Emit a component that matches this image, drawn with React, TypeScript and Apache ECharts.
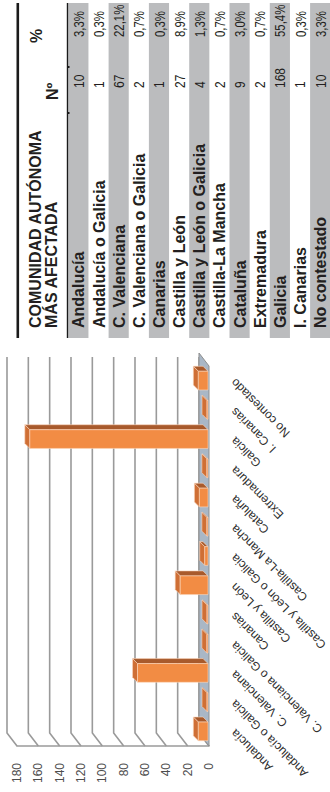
import React, { useEffect, useRef } from 'react';
import * as echarts from 'echarts';

// ---- Data ----
const regions = [
  'Andalucía',
  'Andalucía o Galicia',
  'C. Valenciana',
  'C. Valenciana o Galicia',
  'Canarias',
  'Castilla y León',
  'Castilla y León o Galicia',
  'Castilla-La Mancha',
  'Cataluña',
  'Extremadura',
  'Galicia',
  'I. Canarias',
  'No contestado',
];
const counts = [10, 1, 67, 2, 1, 27, 4, 2, 9, 2, 168, 1, 10];
const percentLabels = ['3,3%', '0,3%', '22,1%', '0,7%', '0,3%', '8,9%', '1,3%', '0,7%', '3,0%', '0,7%', '55,4%', '0,3%', '3,3%'];
const valueTicks = [0, 20, 40, 60, 80, 100, 120, 140, 160, 180];
const headerTitle = ['COMUNIDAD AUTÓNOMA', 'MÁS AFECTADA'];
const headerCount = 'Nº';
const headerPct = '%';

// ---- Styles ----
const FONT = '"Liberation Sans", Arial, Helvetica, sans-serif';
const FRONT = '#F28C44';
const TOP = '#A85A2C';
const CAP = '#CF6F35';
const EDGE = '#FBD9C0';
const GRID = '#9a9a9a';
const DX = -10;
const DY = -13;
const TEXT = '#231F20';
const BAND = '#BBBCBE';

function vText(text: string, x: number, y: number, font: string, squeeze = 1, fill = TEXT) {
  return {
    type: 'text',
    x,
    y,
    rotation: Math.PI / 2,
    scaleX: squeeze,
    silent: true,
    style: {
      text,
      font,
      fill,
      align: 'left',
      textAlign: 'left',
      verticalAlign: 'middle',
      textVerticalAlign: 'middle',
    },
  };
}

function buildTable() {
  const ROW0 = 68.3;
  const ROWH = 20.15;
  const els: any[] = [];
  regions.forEach((r, i) => {
    const x0 = ROW0 + ROWH * i;
    if (i % 2 === 0) {
      els.push({
        type: 'rect',
        silent: true,
        shape: { x: x0, y: 3, width: ROWH, height: 335 },
        style: { fill: BAND },
      });
    }
  });
  regions.forEach((r, i) => {
    const cx = ROW0 + ROWH * i + ROWH / 2 + 0.5;
    els.push(vText(r, cx, 328, `bold 16px ${FONT}`));
    els.push(vText(String(counts[i]), cx, 88, `15px ${FONT}`, 0.8));
    els.push(vText(percentLabels[i], cx, 37, `15px ${FONT}`, 0.76));
  });
  // header
  els.push(vText(headerTitle[0], 35, 328, `bold 16px ${FONT}`));
  els.push(vText(headerTitle[1], 51.5, 328, `bold 16px ${FONT}`));
  els.push(vText(headerCount, 52, 100, `bold 16px ${FONT}`));
  els.push(vText(headerPct, 36.5, 43, `bold 16px ${FONT}`));
  // rules
  els.push({ type: 'rect', silent: true, shape: { x: 16.5, y: 3, width: 2.6, height: 335 }, style: { fill: '#1a1a1a' } });
  els.push({ type: 'rect', silent: true, shape: { x: 66.8, y: 3, width: 1.4, height: 335 }, style: { fill: '#1a1a1a' } });
  els.push({ type: 'rect', silent: true, shape: { x: 67.5, y: 66, width: 2, height: 2 }, style: { fill: '#1a1a1a' } });
  els.push({ type: 'rect', silent: true, shape: { x: 67.5, y: 112, width: 2, height: 2 }, style: { fill: '#1a1a1a' } });
  return els;
}

const gridSeries = {
  type: 'custom',
  coordinateSystem: 'cartesian2d',
  silent: true,
  clip: false,
  z: 1,
  data: valueTicks.map((v) => [v, 0]),
  renderItem: (params: any, api: any) => {
    const cs = params.coordSys;
    const x = api.coord([api.value(0), 0])[0];
    const yb = cs.y + cs.height;
    const yt = cs.y - 9;
    return {
      type: 'polyline',
      shape: { points: [[x, yb], [x + DX, yb + DY], [x + DX, yt]] },
      style: { stroke: GRID, lineWidth: 1.6, fill: null },
    };
  },
};

const floorSeries = {
  type: 'custom',
  coordinateSystem: 'cartesian2d',
  silent: true,
  clip: false,
  z: 2,
  data: [[0, 0]],
  renderItem: (params: any, api: any) => {
    const cs = params.coordSys;
    const x = api.coord([0, 0])[0];
    const yb = cs.y + cs.height;
    const yt = cs.y;
    return {
      type: 'polygon',
      shape: { points: [[x, yb], [x, yt], [x + DX, yt + DY], [x + DX, yb + DY]] },
      style: { fill: '#A9B7C6', stroke: '#8f8f8f', lineWidth: 1 },
    };
  },
};

const barSeries = {
  type: 'custom',
  coordinateSystem: 'cartesian2d',
  silent: true,
  clip: false,
  z: 3,
  data: regions.map((_, i) => [counts[i], i]),
  renderItem: (params: any, api: any) => {
    const v = api.value(0);
    const c = api.value(1);
    const p0 = api.coord([0, c]);
    const p1 = api.coord([v, c]);
    const band = api.size([0, 1])[1];
    const bw = band * 0.64;
    const y0 = p0[1] - bw / 2;
    const y1 = p0[1] + bw / 2;
    const xr = p0[0] - 1;
    const xl = Math.min(p1[0], xr - 1);
    const d = 5;
    return {
      type: 'group',
      children: [
        {
          type: 'polygon',
          shape: { points: [[xl, y0], [xr, y0], [xr - d, y0 - d], [xl - d, y0 - d]] },
          style: { fill: TOP, stroke: EDGE, lineWidth: 0.6 },
        },
        {
          type: 'polygon',
          shape: { points: [[xl, y0], [xl, y1], [xl - d, y1 - d], [xl - d, y0 - d]] },
          style: { fill: CAP, stroke: EDGE, lineWidth: 0.6 },
        },
        {
          type: 'rect',
          shape: { x: xl, y: y0, width: xr - xl, height: bw },
          style: { fill: FRONT, stroke: EDGE, lineWidth: 0.6 },
        },
      ],
    };
  },
};

const option: any = {
  animation: false,
  backgroundColor: '#ffffff',
  grid: { left: 17, right: 121, top: 366, bottom: 46, containLabel: false, outerBoundsMode: 'none' },
  xAxis: {
    type: 'value',
    inverse: true,
    min: 0,
    max: 180,
    interval: 20,
    position: 'bottom',
    axisLine: { show: true, lineStyle: { color: GRID, width: 1.6 } },
    axisTick: { show: false },
    splitLine: { show: false },
    axisLabel: {
      rotate: 90,
      margin: 17,
      align: 'right',
      verticalAlign: 'middle',
      color: '#4d4d4d',
      fontSize: 12,
      fontFamily: FONT,
    },
  },
  yAxis: {
    type: 'category',
    data: regions,
    position: 'right',
    axisLine: { show: false },
    axisTick: { show: false },
    splitLine: { show: false },
    axisLabel: {
      interval: 0,
      rotate: 135,
      margin: 24,
      align: 'right',
      verticalAlign: 'middle',
      color: '#2e2e2e',
      fontSize: 12,
      fontFamily: FONT,
    },
  },
  series: [gridSeries, floorSeries, barSeries],
  graphic: buildTable(),
};

export default function App() {
  const ref = useRef<HTMLDivElement>(null);
  useEffect(() => {
    if (!ref.current) return;
    const chart = echarts.init(ref.current, null, { renderer: 'svg' });
    chart.setOption(option);
    return () => chart.dispose();
  }, []);
  return (
    <div
      ref={ref}
      style={{ position: 'fixed', left: 0, top: 0, width: 330, height: 792, background: '#fff' }}
    />
  );
}
